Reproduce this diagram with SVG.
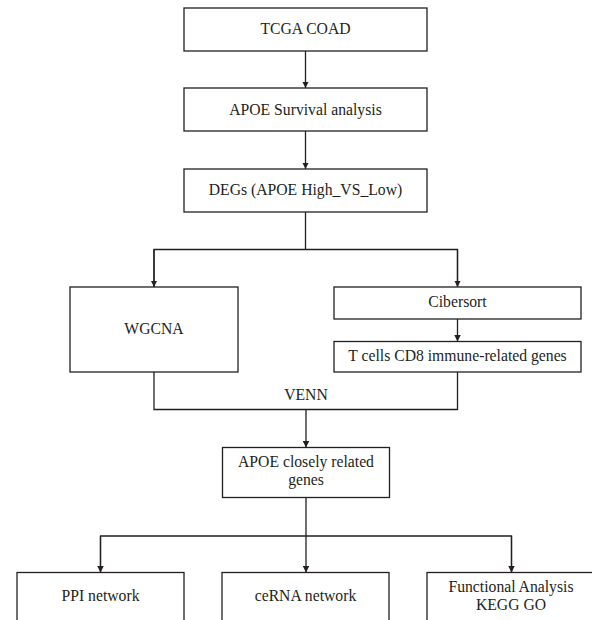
<svg xmlns="http://www.w3.org/2000/svg" width="592" height="620" viewBox="0 0 592 620">
<style>
.box{fill:#fff;stroke:#231f20;stroke-width:1.3}
.ln{fill:none;stroke:#231f20;stroke-width:1.3}
text{font-family:"Liberation Serif","Times New Roman",serif;font-size:15.7px;fill:#231f20;text-anchor:middle}
</style>
<defs>
<marker id="ah" viewBox="0 0 10 10" refX="10" refY="5" markerWidth="6.5" markerHeight="6.5" markerUnits="userSpaceOnUse" orient="auto">
<path d="M0,0 L10,5 L0,10 Z" fill="#231f20"/>
</marker>
</defs>
<rect width="592" height="620" fill="#fff"/>
<g id="connectors">
<path class="ln" d="M305.5,51 V88" marker-end="url(#ah)"/>
<path class="ln" d="M305.5,131 V169" marker-end="url(#ah)"/>
<path class="ln" d="M305.5,212 V249.5"/>
<path class="ln" d="M154,287 V249.5 H457.5 V287" />
<path class="ln" d="M154,249.5 V287" marker-end="url(#ah)"/>
<path class="ln" d="M457.5,249.5 V287" marker-end="url(#ah)"/>
<path class="ln" d="M457.5,319 V341.5" marker-end="url(#ah)"/>
<path class="ln" d="M154,372 V409.5 H457.5 V372"/>
<path class="ln" d="M306,409.5 V447.5" marker-end="url(#ah)"/>
<path class="ln" d="M306,497.5 V536"/>
<path class="ln" d="M100.5,572.5 V536 H511.5 V572.5"/>
<path class="ln" d="M100.5,536 V572.5" marker-end="url(#ah)"/>
<path class="ln" d="M306,536 V572.5" marker-end="url(#ah)"/>
<path class="ln" d="M511.5,536 V572.5" marker-end="url(#ah)"/>
</g>
<g id="tcga"><rect class="box" x="184" y="8" width="243" height="43"/><text x="305.5" y="34">TCGA COAD</text></g>
<g id="survival"><rect class="box" x="184" y="88" width="243" height="43"/><text x="305.5" y="115">APOE Survival analysis</text></g>
<g id="degs"><rect class="box" x="184" y="169" width="243" height="43"/><text x="305.5" y="195">DEGs (APOE High_VS_Low)</text></g>
<g id="wgcna"><rect class="box" x="70" y="287" width="168" height="85"/><text x="154" y="334">WGCNA</text></g>
<g id="cibersort"><rect class="box" x="334" y="287" width="247" height="32"/><text x="457.5" y="307">Cibersort</text></g>
<g id="tcells"><rect class="box" x="334" y="341.5" width="247" height="30.5"/><text x="457.5" y="361">T cells CD8 immune-related genes</text></g>
<g id="venn"><text x="306" y="400">VENN</text></g>
<g id="closely"><rect class="box" x="222.5" y="447.5" width="167" height="50"/><text x="306" y="466.5">APOE closely related</text><text x="306" y="484.5">genes</text></g>
<g id="ppi"><rect class="box" x="17" y="572.5" width="167" height="60"/><text x="100.5" y="601">PPI network</text></g>
<g id="cerna"><rect class="box" x="222" y="572.5" width="167" height="60"/><text x="305.5" y="601">ceRNA network</text></g>
<g id="functional"><rect class="box" x="427" y="572.5" width="169" height="60"/><text x="511" y="591.5">Functional Analysis</text><text x="511" y="610">KEGG GO</text></g>
</svg>
